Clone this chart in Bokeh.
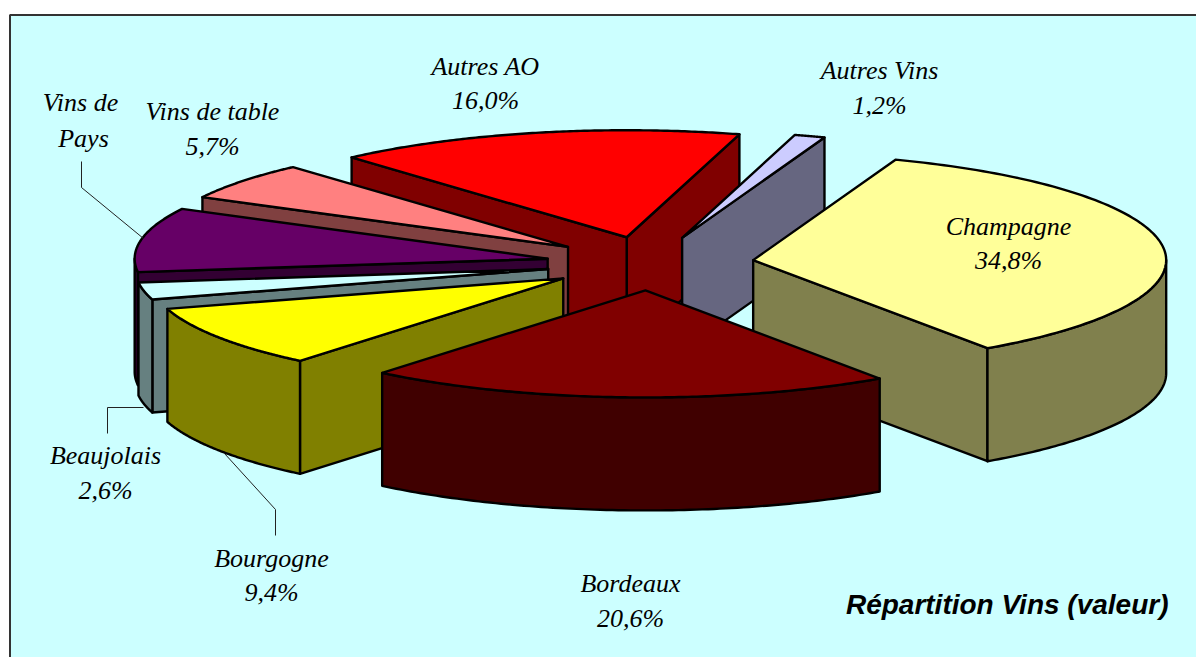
import numpy as np
from bokeh.plotting import figure
from bokeh.models import Range1d
from bokeh.core.properties import value
from bokeh.embed import file_html
from bokeh.resources import INLINE

# ---- data, in drawing sequence round the pie (percent of value) ----
categories = ["Bordeaux", "Champagne", "Autres Vins", "Autres AO", "Vins de table",
              "Vins de Pays", "Beaujolais", "Bourgogne"]
shares = [20.6, 34.8, 1.2, 16.0, 5.7, 9.7, 2.6, 9.4]
share_labels = ["20,6%", "34,8%", "1,2%", "16,0%", "5,7%", "", "2,6%", "9,4%"]
chart_title = "Répartition Vins (valeur)"

# ---- styles ----
top_colors = ["#800000", "#FFFF99", "#CCCCFF", "#FF0000", "#FF8080", "#660066", "#CCFFFF", "#FFFF00"]
side_colors = ["#400000", "#80804D", "#666680", "#800000", "#804040", "#330033", "#668080", "#808000"]
BG = "#CCFFFF"

# ---- layout of the projected pie (picture pixels) ----
W, H = 1196, 657
CX, CY = 649.5, 263.0      # pie centre
RX, RY = 413.0, 107.0      # ellipse of a slice's rim
DEPTH = 113.0              # thickness of the pie
EXPLODE = 104.0            # radial explosion of every slice
START = np.radians(-39.6)  # angle (from straight down, anti-clockwise on screen) of the first slice
LW = 2.4

label_pos = {
    "Autres AO": (486, 66, 100), "Autres Vins": (880, 70, 105), "Champagne": (1009, 226, 260),
    "Bordeaux": (631, 583, 618), "Bourgogne": (272, 558, 592), "Beaujolais": (106, 455, 490),
    "Vins de table": (213, 111, 146),
}
leaders = [
    ([81, 81, 143], [161, 187, 238]),
    ([107, 107, 143], [433, 407, 407]),
    ([275, 275, 224], [535, 509, 453]),
]

p = figure(width=W, height=H, x_range=Range1d(0, W), y_range=Range1d(H, 0),
           x_axis_type=None, y_axis_type=None, toolbar_location=None,
           output_backend="svg", min_border=0, outline_line_color=None,
           background_fill_color="white", border_fill_color="white")
p.grid.visible = False

# background panel with its top and left rule
p.quad(left=[9.5], right=[W + 2], top=[14.5], bottom=[H + 2], fill_color=BG, line_color=None)
p.line([9.5, 9.5, W + 2], [H + 2, 14.5, 14.5], line_color="#333333", line_width=2)


def rim(theta, ax, ay):
    return ax + RX * np.sin(theta), ay + RY * np.cos(theta)


def face(xs, ys, color):
    p.patch(list(xs), list(ys), fill_color=color, line_color="black", line_width=LW, line_join="round")


def cut_face(theta, ax, ay, color):
    x, y = rim(theta, ax, ay)
    face([ax, x, x, ax], [ay, y, y + DEPTH, ay + DEPTH], color)


def wall(t1, t2, ax, ay, color):
    # only the part of the outer wall that faces the viewer (cos > 0)
    k1 = np.ceil((t1 - np.pi / 2) / (2 * np.pi))
    lo, hi = -np.pi / 2 + 2 * np.pi * k1, np.pi / 2 + 2 * np.pi * k1
    if lo > t2 or hi < t1:
        lo, hi = lo - 2 * np.pi, hi - 2 * np.pi
    a, b = max(t1, lo), min(t2, hi)
    if b <= a:
        return
    th = np.linspace(a, b, 90)
    x, y = rim(th, ax, ay)
    face(np.r_[x, x[::-1]], np.r_[y, y[::-1] + DEPTH], color)


# angles of each slice, from its share
spans = np.array(shares) / 100.0 * 2 * np.pi
starts = START + np.r_[0.0, np.cumsum(spans)[:-1]]
slices = {}
for name, t0, dt, top, side in zip(categories, starts, spans, top_colors, side_colors):
    mid = t0 + dt / 2
    slices[name] = (t0, t0 + dt, CX + EXPLODE * np.sin(mid),
                    CY + EXPLODE * RY / RX * np.cos(mid), top, side)

# painter's order, back to front
order = ["Autres AO", "Autres Vins", "Champagne", "Vins de table", "Vins de Pays",
         "Beaujolais", "Bourgogne", "Bordeaux"]
for name in order:
    t1, t2, ax, ay, top, side = slices[name]
    if np.sin(t1) > 0:
        cut_face(t1, ax, ay, side)
    if np.sin(t2) < 0:
        cut_face(t2, ax, ay, side)
    wall(t1, t2, ax, ay, side)
    th = np.linspace(t1, t2, 120)
    x, y = rim(th, ax, ay)
    face(np.r_[ax, x], np.r_[ay, y], top)

# leader lines
for lx, ly in leaders:
    p.line(lx, ly, line_color="#222222", line_width=1)

# labels
serif = dict(text_font=value("Liberation Serif"), text_font_style="italic", text_font_size="26px",
             text_align="center", text_baseline="middle", text_color="black")
for name, share in zip(categories, share_labels):
    if name in label_pos:
        x, y1, y2 = label_pos[name]
        p.text([x - 1], [y1], text=[name], **serif)
        p.text([x - 1], [y2], text=[share], **serif)
p.text([80], [102], text=["Vins de"], **serif)
p.text([83], [138], text=["Pays"], **serif)

p.text([1168], [604], text=[chart_title], text_font=value("Liberation Sans"),
       text_font_style="bold italic", text_font_size="28px", text_align="right",
       text_baseline="middle", text_color="black")

open("out.html", "w").write(file_html(p, INLINE))
